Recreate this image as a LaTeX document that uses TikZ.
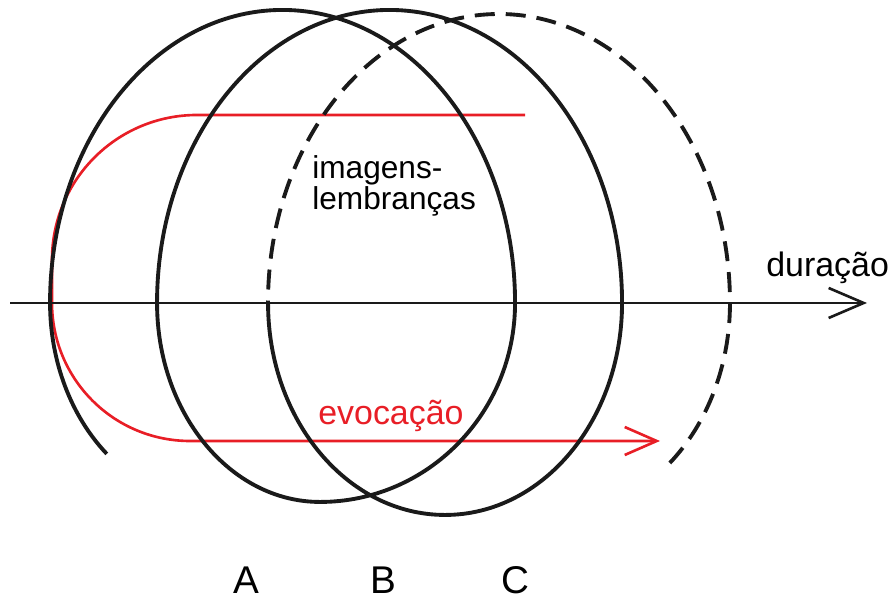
\documentclass[tikz,border=0pt]{standalone}
\usepackage{fontspec}
\setmainfont{Liberation Sans}
\usepackage{xcolor}
\usepackage{tikz}
\usetikzlibrary{arrows.meta}

\definecolor{evored}{RGB}{232,30,38}
\definecolor{inkblack}{RGB}{26,26,26}

\begin{document}
\begin{tikzpicture}[x=0.2mm, y=0.2mm,
  spiral/.style={inkblack, line width=2.2pt},
  evo/.style={evored, line width=1.5pt},
  label/.style={inner sep=0pt, font=\fontsize{19.3}{22}\selectfont}]
  \useasboundingbox (0,0) rectangle (888,600);

  % Evocation path (red), from the top back round to the arrow
  \coordinate (e0) at (525,485);
  \coordinate (e1) at (660,159);
  \draw[evo, -{Straight Barb[length=6.4mm, width=5.6mm]}]
    (e0) -- (197,485) arc[start angle=90, end angle=180, radius=145]
    -- (52,297) arc[start angle=180, end angle=270, radius=138] -- (e1);

  % Spiral of the loops A, B, C (solid part)
  \coordinate (s0) at (106.8,146.1);
  \coordinate (s3) at (268,297);
  \coordinate (s4) at (669.8,137);
  \draw[spiral] (s0)
    arc[start angle=229, end angle=180, x radius=165, y radius=200]
    arc[start angle=180, end angle=0, x radius=232.5, y radius=293]
    arc[start angle=0, end angle=-90, x radius=195, y radius=199]
    arc[start angle=270, end angle=180, x radius=163, y radius=199]
    arc[start angle=180, end angle=0, x radius=232.5, y radius=293]
    arc[start angle=0, end angle=-90, x radius=177, y radius=212]
    arc[start angle=270, end angle=180, x radius=177, y radius=212];
  % next loop still to come (dashed), drawn back from its free end
  \draw[spiral, dash pattern=on 4mm off 2.2mm] (s4)
    arc[start angle=-49, end angle=0, x radius=175, y radius=212]
    arc[start angle=0, end angle=180, x radius=231, y radius=289];

  % Time axis
  \coordinate (t0) at (10,297);
  \coordinate (t1) at (867,297);
  \draw[inkblack, line width=1.5pt, -{Straight Barb[length=7mm, width=6mm]}] (t0) -- (t1);
  \node[label, anchor=base west] (dur) at (766,323) {duração};

  % Labels
  \node[label, anchor=base west, align=left, font=\fontsize{18}{16}\selectfont] (img) at (312,390)
    {imagens-\\lembranças};
  \node[label, evored, anchor=base west] (evoc) at (318,175) {evocação};
  \node[label, anchor=base, font=\fontsize{22}{26}\selectfont] (A) at (246,6) {A};
  \node[label, anchor=base, font=\fontsize{22}{26}\selectfont] (B) at (383,6) {B};
  \node[label, anchor=base, font=\fontsize{22}{26}\selectfont] (C) at (515,6) {C};
\end{tikzpicture}
\end{document}
